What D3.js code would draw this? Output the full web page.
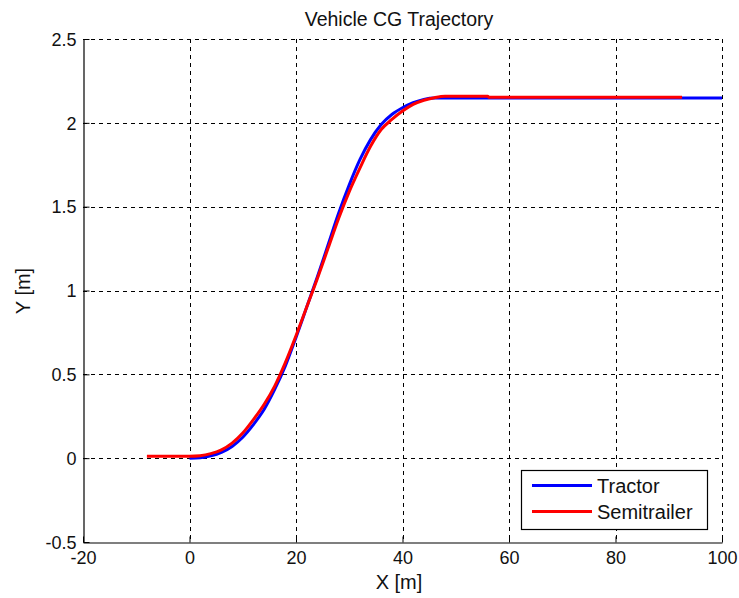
<!DOCTYPE html>
<html>
<head>
<meta charset="utf-8">
<script src="https://cdn.jsdelivr.net/npm/d3@7"></script>
<style>
  html, body { margin: 0; padding: 0; background: #fff; }
  svg { display: block; font-family: "Liberation Sans", Arial, Helvetica, sans-serif; }
</style>
</head>
<body>
<svg id="chart" width="739" height="598"></svg>
<script>
// Vehicle CG positions (X, Y in metres)
const tractorX = [0, 2, 4, 6, 8, 10, 12, 14, 16, 18, 20, 22, 24, 26, 28, 30, 32, 34, 36, 38, 40, 42, 44, 46, 48, 100];
const tractorY = [0, 0.003, 0.014, 0.035, 0.07, 0.125, 0.2, 0.29, 0.41, 0.55, 0.72, 0.9, 1.08, 1.27, 1.46, 1.63, 1.78, 1.9, 1.99, 2.05, 2.09, 2.12, 2.14, 2.148, 2.148, 2.148];

const trailerX = [-8, -4, 0, 2, 4, 6, 8, 10, 12, 14, 16, 18, 20, 22, 24, 26, 28, 30, 32, 34, 36, 38, 40, 42, 44, 46, 48, 56, 56.3, 92.5];
const trailerY = [0.012, 0.012, 0.012, 0.015, 0.027, 0.05, 0.09, 0.15, 0.23, 0.32, 0.43, 0.57, 0.73, 0.9, 1.07, 1.25, 1.43, 1.59, 1.73, 1.86, 1.96, 2.02, 2.07, 2.11, 2.135, 2.15, 2.158, 2.158, 2.152, 2.152];

const xTicks = [-20, 0, 20, 40, 60, 80, 100];
const xTickLabels = ["-20", "0", "20", "40", "60", "80", "100"];
const yTicks = [-0.5, 0, 0.5, 1, 1.5, 2, 2.5];
const yTickLabels = ["-0.5", "0", "0.5", "1", "1.5", "2", "2.5"];

const seriesNames = ["Tractor", "Semitrailer"];
const seriesColors = ["#0000ff", "#ff0000"];

const svg = d3.select("#chart");
const plotLeft = 83, plotRight = 722, plotTop = 39, plotBottom = 542;

const x = d3.scaleLinear().domain([-20, 100]).range([plotLeft, plotRight]);
const y = d3.scaleLinear().domain([-0.5, 2.5]).range([plotBottom, plotTop]);

// dashed grid
const grid = svg.append("g").attr("stroke", "#000").attr("stroke-width", 1)
  .attr("stroke-dasharray", "4,4");
grid.selectAll(".gx").data(xTicks.slice(1, -1)).enter().append("line")
  .attr("x1", d => Math.round(x(d)) + 0.5).attr("x2", d => Math.round(x(d)) + 0.5)
  .attr("y1", plotTop).attr("y2", plotBottom);
grid.selectAll(".gy").data(yTicks.slice(1, -1)).enter().append("line")
  .attr("y1", d => Math.round(y(d)) + 0.5).attr("y2", d => Math.round(y(d)) + 0.5)
  .attr("x1", plotLeft).attr("x2", plotRight);
// top and right edges are dashed too
grid.append("line").attr("x1", plotLeft).attr("x2", plotRight)
  .attr("y1", plotTop + 0.5).attr("y2", plotTop + 0.5);
grid.append("line").attr("x1", plotRight + 0.5).attr("x2", plotRight + 0.5)
  .attr("y1", plotTop).attr("y2", plotBottom);

// solid axes (left and bottom) with inward ticks
const xAxis = d3.axisBottom(x).tickValues(xTicks).tickSizeInner(-6).tickSizeOuter(0)
  .tickPadding(9).tickFormat((d, i) => xTickLabels[i]);
const yAxis = d3.axisLeft(y).tickValues(yTicks).tickSizeInner(-6).tickSizeOuter(0)
  .tickPadding(7).tickFormat((d, i) => yTickLabels[i]);

const gx = svg.append("g").attr("transform", `translate(0,${plotBottom + 0.5})`).call(xAxis);
const gy = svg.append("g").attr("transform", `translate(${plotLeft + 0.5},0)`).call(yAxis);
[gx, gy].forEach(g => {
  g.select(".domain").attr("stroke", "#000").attr("stroke-width", 1.2);
  g.selectAll(".tick line").attr("stroke", "#000");
  g.selectAll(".tick text").attr("fill", "#111").style("font-size", "18px")
    .style("font-family", "'Liberation Sans', Arial, sans-serif");
});
gx.selectAll(".tick text").attr("dy", "0.71em");
gy.selectAll(".tick text").attr("dy", "0.35em");

// trajectories
const line = d3.line().x(d => x(d[0])).y(d => y(d[1])).curve(d3.curveMonotoneX);
const tractor = tractorX.map((v, i) => [v, tractorY[i]]);
const trailer = trailerX.map((v, i) => [v, trailerY[i]]);

svg.append("path").datum(tractor).attr("d", line)
  .attr("fill", "none").attr("stroke", seriesColors[0]).attr("stroke-width", 3);
svg.append("path").datum(trailer).attr("d", line)
  .attr("fill", "none").attr("stroke", seriesColors[1]).attr("stroke-width", 3);

// title and axis labels
svg.append("text").attr("x", 399).attr("y", 26).attr("text-anchor", "middle")
  .attr("fill", "#111").style("font-size", "19.5px").text("Vehicle CG Trajectory");
svg.append("text").attr("x", 399).attr("y", 589).attr("text-anchor", "middle")
  .attr("fill", "#111").style("font-size", "20px").text("X [m]");
svg.append("text").attr("transform", "translate(30,291) rotate(-90)")
  .attr("text-anchor", "middle").attr("fill", "#111").style("font-size", "20px").text("Y [m]");

// legend
const lg = svg.append("g");
lg.append("rect").attr("x", 521.5).attr("y", 470.5).attr("width", 186).attr("height", 59)
  .attr("fill", "#fff").attr("stroke", "#000").attr("stroke-width", 1.2);
const rows = [485.5, 511.5];
seriesNames.forEach((name, i) => {
  lg.append("line").attr("x1", 532).attr("x2", 592).attr("y1", rows[i]).attr("y2", rows[i])
    .attr("stroke", seriesColors[i]).attr("stroke-width", 3);
  lg.append("text").attr("x", 597).attr("y", rows[i] + 7.5)
    .attr("fill", "#111").style("font-size", "20px").text(name);
});
</script>
</body>
</html>
